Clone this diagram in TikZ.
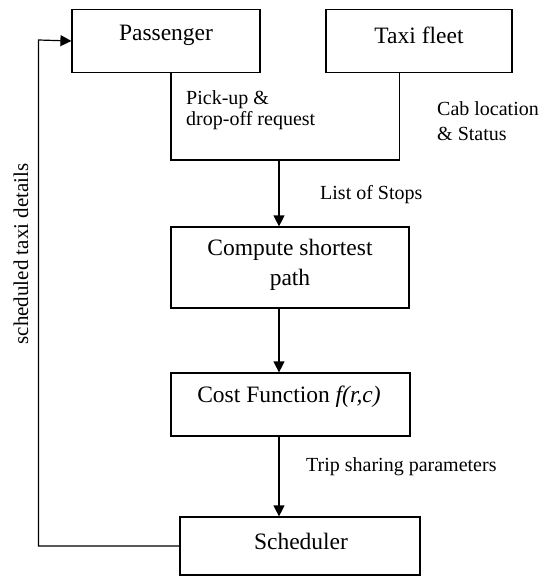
\documentclass[tikz,border=0pt]{standalone}
\usepackage{fontspec}
\setmainfont{Liberation Serif}
\usetikzlibrary{arrows.meta}

\tikzset{
  box/.style={draw, line width=1.2pt, inner sep=0pt},
  boxtext/.style={font=\fontsize{23.5}{30}\selectfont, align=center},
  lbl/.style={font=\fontsize{20}{21}\selectfont, align=left, inner sep=0pt},
  arr/.style={line width=1.2pt, -{Triangle[length=11pt,width=11pt]}}
}

\begin{document}
\begin{tikzpicture}[x=1pt,y=-1pt]
 \useasboundingbox (0,0) rectangle (539,577);

 \node[box, minimum width=188pt, minimum height=63pt] (pass) at (166,41) {};
 \node[boxtext] (passtxt) at (166,35) {Passenger};
 \node[box, minimum width=186pt, minimum height=63pt] (fleet) at (419,41) {};
 \node[boxtext] (fleettxt) at (419,35) {Taxi fleet};

 \node[box, minimum width=238pt, minimum height=81pt] (csp) at (290,267.5) {};
 \node[boxtext] (csptxt) at (290,265) {Compute shortest\\path};

 \node[box, minimum width=239pt, minimum height=63pt] (cost) at (290.5,404.5) {};
 \node[boxtext] (costtxt) at (289,397) {Cost Function \textit{f(r,c)}};

 \node[box, minimum width=240pt, minimum height=58pt] (sched) at (300,546) {};
 \node[boxtext] (schedtxt) at (301,541) {Scheduler};

 \coordinate (mid) at (279,160);
 \draw[line width=1.2pt] ([xshift=5pt]pass.south) |- (mid) -| ([xshift=-19.5pt]fleet.south);
 \draw[arr] (mid) -- (csp.north -| mid);
 \draw[arr] (csp.south -| mid) -- (cost.north -| mid);
 \draw[arr] (cost.south -| mid) -- (sched.north -| mid);

 \coordinate (back) at (38.5,40);
 \draw[arr] (sched.west) -| (back) -- (pass.west);

 \node[lbl, anchor=west] (req) at (186,110) {Pick-up \&\\drop-off request};
 \node[lbl, anchor=west] (cab) at (437,121.5) {Cab location\\[4pt]\& Status};
 \node[lbl, anchor=west] (stops) at (320,195) {List of Stops};
 \node[lbl, anchor=west] (trip) at (306,467) {Trip sharing parameters};
 \node[lbl, rotate=90, font=\fontsize{21}{22}\selectfont] (fb) at (21,254) {scheduled taxi details};

\end{tikzpicture}
\end{document}
